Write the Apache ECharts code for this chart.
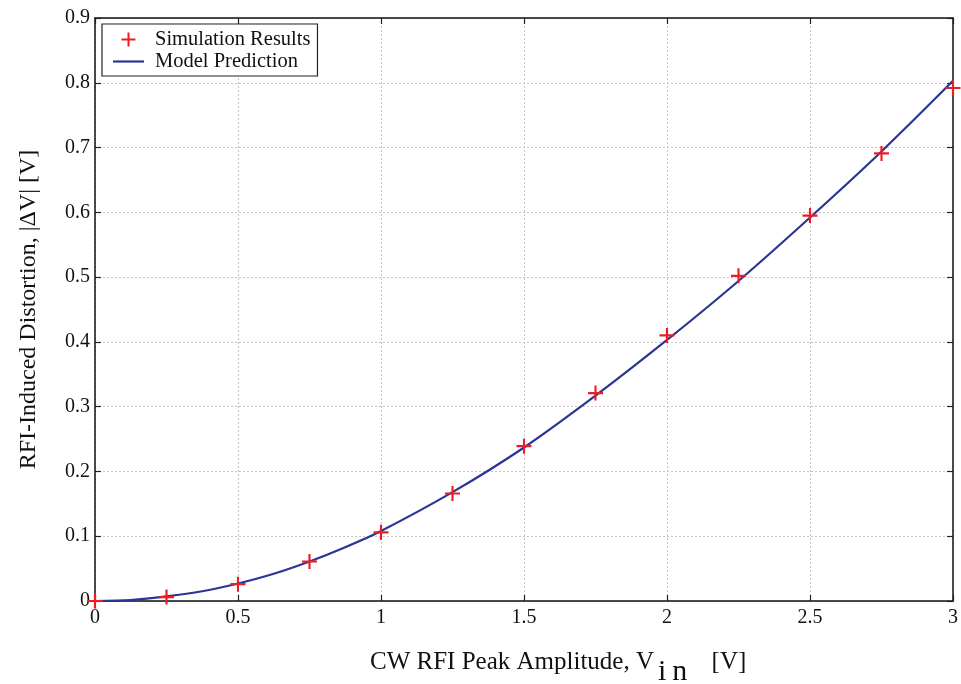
<!DOCTYPE html>
<html><head><meta charset="utf-8">
<script src="https://cdn.jsdelivr.net/npm/echarts@6/dist/echarts.min.js"></script>
<style>html,body{margin:0;padding:0;background:#fff}#c{width:961px;height:684px}</style>
</head><body><div id="c"></div>
<script>
var simX = [0, 0.25, 0.5, 0.75, 1.0, 1.25, 1.5, 1.75, 2.0, 2.25, 2.5, 2.75, 3.0];
var simY = [0, 0.006, 0.026, 0.061, 0.106, 0.166, 0.239, 0.321, 0.410, 0.502, 0.595, 0.691, 0.792];
var modelX = [0, 0.125, 0.25, 0.375, 0.5, 0.625, 0.75, 0.875, 1.0, 1.25, 1.5, 1.75, 2.0, 2.25, 2.5, 2.75, 3.0];
var modelY = [0, 0.0015, 0.007, 0.015, 0.027, 0.042, 0.061, 0.083, 0.108, 0.168, 0.237, 0.317, 0.403, 0.494, 0.592, 0.694, 0.803];
var xTicks = [0, 0.5, 1, 1.5, 2, 2.5, 3];
var yTicks = [0, 0.1, 0.2, 0.3, 0.4, 0.5, 0.6, 0.7, 0.8, 0.9];

var FONT = 'Liberation Serif';
var plus = 'path://M6,0H8V6H14V8H8V14H6V8H0V6H6Z';
var lineIcon = 'path://M0,0H31V2.2H0Z';
var chart = echarts.init(document.getElementById('c'));
var gridLine = {show: true, lineStyle: {color: '#c4c4c4', type: [2, 2], width: 1}};
var tickIn = {show: true, inside: true, length: 6, lineStyle: {color: '#222', width: 1.2}};
var axLine = {show: true, onZero: false, lineStyle: {color: '#111', width: 1.5}};
chart.setOption({
  animation: false,
  backgroundColor: '#fff',
  textStyle: {fontFamily: FONT},
  grid: {left: 95, right: 8, top: 18, bottom: 83, containLabel: false},
  legend: {
    left: 102, top: 24, orient: 'vertical', itemGap: 1,
    backgroundColor: '#fff', borderColor: '#222', borderWidth: 1.2, borderRadius: 0,
    padding: [5, 7, 4, 11], itemWidth: 31, itemHeight: 14,
    textStyle: {fontFamily: FONT, fontSize: 20.5, color: '#111', padding: [0, 0, 0, 6]},
    data: [
      {name: 'Simulation Results', icon: plus, itemStyle: {color: '#ed1c24'}},
      {name: 'Model Prediction', icon: lineIcon, itemStyle: {color: '#2b3595'}}
    ]
  },
  graphic: [{
    type: 'text', left: 370, top: 650,
    style: {
      text: '{a|CW RFI Peak Amplitude, V}{s|i}{s2|n}{a| [V]}',
      rich: {
        a: {fontFamily: FONT, fontSize: 25, fill: '#111', verticalAlign: 'bottom', lineHeight: 30},
        s: {fontFamily: FONT, fontSize: 30, fill: '#111', verticalAlign: 'bottom', lineHeight: 30, padding: [0, 0, -12, 4]},
        s2: {fontFamily: FONT, fontSize: 30, fill: '#111', verticalAlign: 'bottom', lineHeight: 30, padding: [0, 18, -12, 6]}
      }
    }
  }],
  xAxis: [{
    type: 'value', min: 0, max: 3, interval: 0.5, position: 'bottom',
    axisLine: axLine, axisTick: tickIn, splitLine: gridLine,
    axisLabel: {color: '#111', fontFamily: FONT, fontSize: 20, margin: 7,
      formatter: function (v) { return xTicks.indexOf(v) >= 0 ? String(v) : ''; }}
  }, {
    type: 'value', min: 0, max: 3, interval: 0.5, position: 'top',
    axisLine: axLine, axisTick: tickIn, splitLine: {show: false}, axisLabel: {show: false}
  }],
  yAxis: [{
    type: 'value', min: 0, max: 0.9, interval: 0.1, position: 'left',
    axisLine: axLine, axisTick: tickIn, splitLine: gridLine,
    axisLabel: {color: '#111', fontFamily: FONT, fontSize: 20, margin: 5,
      formatter: function (v) { var r = Math.round(v * 10) / 10; return yTicks.indexOf(r) >= 0 ? String(r) : ''; }},
    name: 'RFI-Induced Distortion, |ΔV| [V]', nameLocation: 'middle', nameGap: 54, nameRotate: 90,
    nameTextStyle: {fontFamily: FONT, fontSize: 24, color: '#111'}
  }, {
    type: 'value', min: 0, max: 0.9, interval: 0.1, position: 'right',
    axisLine: axLine, axisTick: tickIn, splitLine: {show: false}, axisLabel: {show: false}
  }],
  series: [{
    name: 'Model Prediction', type: 'line', smooth: 0.3, symbol: 'none',
    lineStyle: {color: '#2b3595', width: 2.2}, itemStyle: {color: '#2b3595'},
    data: modelX.map(function (x, i) { return [x, modelY[i]]; }), z: 3
  }, {
    name: 'Simulation Results', type: 'scatter', symbol: plus, symbolSize: 15,
    itemStyle: {color: '#ed1c24', opacity: 1},
    data: simX.map(function (x, i) { return [x, simY[i]]; }), z: 4, clip: false
  }]
});
</script></body></html>
